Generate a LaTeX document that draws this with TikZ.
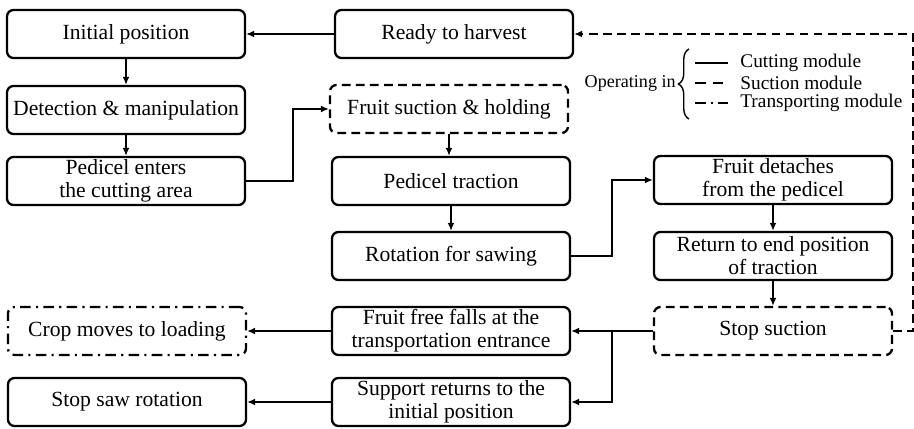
\documentclass[tikz,border=0pt]{standalone}
\usepackage{fontspec}
\setmainfont{Liberation Serif}
\usetikzlibrary{positioning,arrows.meta,decorations.pathreplacing}
\tikzset{
  flowarrow/.style={-{Latex[length=1.6mm,width=1.4mm]}, line width=0.9pt},
  stepbox/.style={draw, rounded corners=1.3mm, line width=1.3pt, minimum width=4.76cm, minimum height=0.96cm, align=center, inner sep=1pt},
  suctbox/.style={stepbox, dash pattern=on 5pt off 3pt},
  transbox/.style={stepbox, dash pattern=on 6pt off 3pt on 1.2pt off 3pt},
  legtext/.style={font=\fontsize{11}{12}\selectfont, anchor=west, inner sep=0pt}
}

\begin{document}
\begin{tikzpicture}[>=Latex, every node/.style={font=\fontsize{12.3}{13}\selectfont}]
  \useasboundingbox (0,0) rectangle (18.28,-8.58);
  % boxes
  \node[stepbox] (init) at (2.52,-0.68) {Initial position};
  \node[stepbox] (ready) at (9.08,-0.68) {Ready to harvest};
  \node[stepbox] (detect) at (2.52,-2.20) {Detection \& manipulation};
  \node[stepbox] (enter) at (2.52,-3.62) {Pedicel enters\\the cutting area};
  \node[suctbox] (hold) at (8.98,-2.18) {Fruit suction \& holding};
  \node[stepbox] (traction) at (9.02,-3.62) {Pedicel traction};
  \node[stepbox] (rotation) at (9.02,-5.12) {Rotation for sawing};
  \node[stepbox] (detach) at (15.46,-3.60) {Fruit detaches\\from the pedicel};
  \node[stepbox] (back) at (15.46,-5.12) {Return to end position\\of traction};
  \node[suctbox] (stopsuc) at (15.46,-6.62) {Stop suction};
  \node[stepbox] (falls) at (9.02,-6.62) {Fruit free falls at the\\transportation entrance};
  \node[stepbox] (support) at (9.02,-8.04) {Support returns to the\\initial position};
  \node[transbox] (crop) at (2.54,-6.62) {Crop moves to loading};
  \node[stepbox] (stopsaw) at (2.54,-8.04) {Stop saw rotation};
  % connectors
  \draw[flowarrow] (ready) -- (init);
  \draw[flowarrow] (init) -- (detect);
  \draw[flowarrow] (detect) -- (enter);
  \draw[flowarrow] (enter.east) -- ++(0.94,0) |- (hold.west);
  \draw[flowarrow] (hold.south) -- (hold.south |- traction.north);
  \draw[flowarrow] (traction) -- (rotation);
  \draw[flowarrow] (rotation.east) -- ++(0.82,0) |- (detach.west);
  \draw[flowarrow] (detach) -- (back);
  \draw[flowarrow] (back) -- (stopsuc);
  \coordinate (split) at (12.24,-6.62);
  \draw[flowarrow] (stopsuc.west) -- (falls.east);
  \draw[flowarrow] (split) |- (support.east);
  \draw[flowarrow] (falls) -- (crop);
  \draw[flowarrow] (support) -- (stopsaw);
  \draw[flowarrow, dash pattern=on 5pt off 3pt] (stopsuc.east) -- ++(0.40,0) |- (ready.east);
  % legend
  \node[legtext, anchor=east, font=\fontsize{10.3}{12}\selectfont] (oper) at (13.52,-1.66) {Operating in};
  \draw[line width=0.8pt, decorate, decoration={brace, amplitude=6pt}]
    (13.78,-2.38) -- (13.78,-0.98);
  \draw[line width=1.3pt] (13.90,-1.26) -- (14.56,-1.26);
  \draw[line width=1.3pt, dash pattern=on 6pt off 4pt] (13.90,-1.66) -- (14.56,-1.66);
  \draw[line width=1.3pt, dash pattern=on 6pt off 3pt on 1.2pt off 3pt] (13.90,-2.06) -- (14.56,-2.06);
  \node[legtext] (cut) at (14.80,-1.26) {Cutting module};
  \node[legtext] (suc) at (14.80,-1.66) {Suction module};
  \node[legtext] (tra) at (14.80,-2.06) {Transporting module};
\end{tikzpicture}
\end{document}
